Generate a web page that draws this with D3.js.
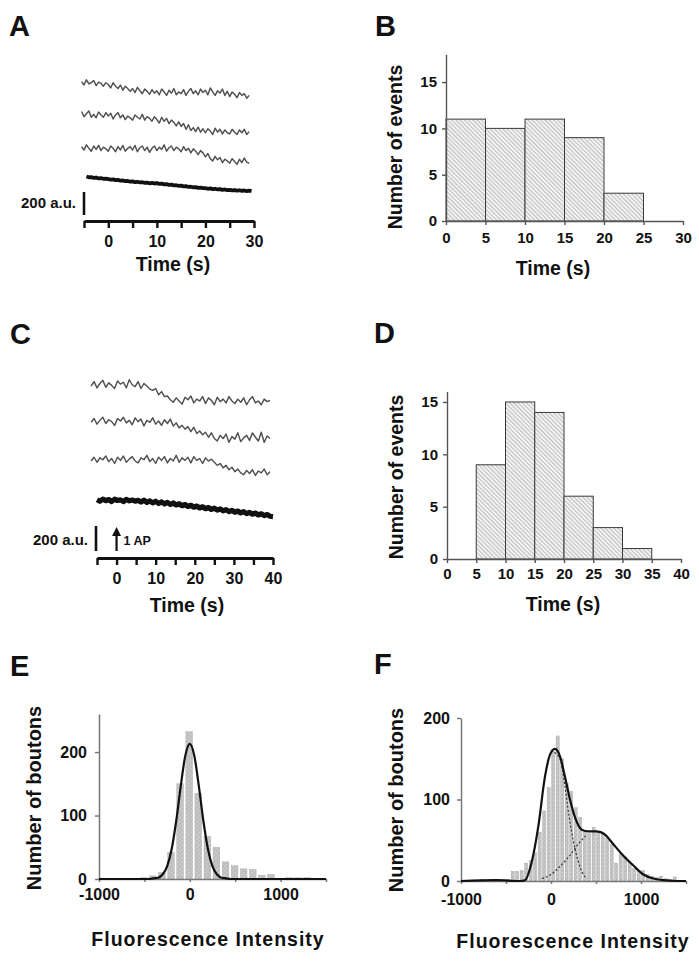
<!DOCTYPE html>
<html><head><meta charset="utf-8">
<script src="https://cdn.jsdelivr.net/npm/d3@7"></script>
<style>
body{margin:0;background:#fff}
svg text{font-family:"Liberation Sans",Arial,sans-serif;font-weight:bold;fill:#111}
</style></head><body>
<svg id="fig" width="699" height="966"></svg>
<script>
// ---------------- DATA ----------------
// Panel A: single-bouton traces (a.u.), sampled every 0.5 s
const timesA = d3.range(-5.5, 29.01, 0.5);
const timesAThick = d3.range(-4.5, 29.51, 0.5);
const traceA1 = [1160,1130,1175,1140,1150,1170,1125,1155,1145,1120,1150,
  1135,1105,1150,1120,1100,1130,1085,1120,1100,1075,
  1100,1065,1110,1080,1055,1095,1075,1050,1090,1060,
  1080,1045,1095,1070,1040,1085,1060,1100,1045,1070,
  1055,1090,1040,1075,1100,1055,1080,1045,1095,1065,
  1085,1045,1105,1070,1040,1080,1060,1095,1040,1075,
  1030,1070,1050,1020,1065,1040,1055,1015,1040];
const traceA2 = [900,855,880,905,850,875,845,895,870,850,890,
  860,885,835,870,890,845,870,830,860,845,
  825,870,850,835,875,825,855,840,815,855,
  830,800,850,815,840,795,825,805,775,810,
  770,795,745,785,735,760,725,765,720,750,
  715,750,730,700,755,720,745,705,740,715,
  705,745,720,700,740,715,745,700,725];
const traceA3 = [595,565,610,580,555,600,570,605,560,590,575,
  555,600,580,550,595,565,605,555,580,595,
  565,605,550,585,600,560,590,545,580,600,
  560,590,570,610,555,585,600,560,590,575,
  550,595,560,580,540,575,555,525,560,540,
  505,535,490,470,510,480,500,455,485,470,
  450,490,465,440,485,455,495,460,450];
const traceA4 = [335,328,330,322,326,318,320,315,316,
  312,308,310,303,305,298,300,294,296,290,
  292,286,289,283,285,279,282,276,279,274,
  277,271,273,266,268,262,264,258,259,253,
  255,249,251,244,246,240,242,236,238,233,
  234,228,231,225,228,222,225,219,222,216,
  219,214,217,212,215,210,213,208,211,207];
const timeTicksA = [-5,0,5,10,15,20,25,30];
const timeLabelsA = [0,10,20,30];

// Panel C: single-bouton traces (a.u.), sampled every 0.75 s
const timesC = d3.range(-6.5, 39.3, 0.75);
const timesCThick = d3.range(-5, 40.01, 0.75);
const traceC1 = [1320,1355,1305,1340,1365,1310,1345,1325,1300,1360,1335,1350,1305,1370,1330,1315,1355,1300,1340,1320,1295,
  1285,1300,1250,1275,1235,1240,1210,
  1190,1225,1200,1175,1230,1210,1240,1185,1215,1200,1235,1180,1225,1205,1170,1230,1195,1215,1185,1235,1200,1180,1215,1190,1225,1170,1210,1235,1185,1200,1170,1215,1195,1205];
const traceC2 = [1030,1060,1015,1045,1070,1020,1050,1035,1005,1060,1040,1070,1025,1045,1010,1065,1035,1055,1000,1045,1030,1065,1015,1040,1005,1050,1020,1055,1000,
  1025,985,1005,975,995,955,990,940,960,930,950,910,945,900,
  880,925,900,935,870,915,895,945,875,905,925,885,945,910,880,950,870,920,900];
const traceC3 = [720,750,710,745,730,760,715,740,700,750,725,760,710,735,755,720,705,745,730,765,715,740,700,750,725,755,705,740,720,765,710,745,725,750,705,755,725,740,700,745,720,735,
  710,685,700,665,685,650,670,635,655,625,
  610,645,620,650,605,640,625,655,610,635];
const traceC4 = [410,398,415,402,412,396,414,404,409,395,413,401,408,399,
  405,392,407,388,401,385,398,380,393,376,389,372,384,368,
  378,362,372,356,366,350,360,344,354,338,348,332,343,327,
  337,321,331,315,326,310,320,304,315,299,309,294,304,288,298,283,292,278,275];
const timeTicksC = [-5,0,5,10,15,20,25,30,35,40];
const timeLabelsC = [0,10,20,30,40];

// Panel B: histogram of event times
const binStartB = [0,5,10,15,20];
const countsB = [11,10,11,9,3];
const xTicksB = [0,5,10,15,20,25,30];
const yTicksB = [0,5,10,15];

// Panel D
const binStartD = [5,10,15,20,25,30];
const countsD = [9,15,14,6,3,1];
const xTicksD = [0,5,10,15,20,25,30,35,40];
const yTicksD = [0,5,10,15];

// Panel E: bouton fluorescence histogram (bin centres, 100 a.u. bins)
const binCenterE = [-500,-400,-300,-200,-100,0,100,200,300,400,500,600,700,800,900,1000,1100,1200,1300];
const countsE = [2,5,10,42,150,232,135,67,50,27,21,16,15,6,7,1,2,2,2];
const fitXE = [-1000,-450,-400,-350,-300,-250,-200,-150,-100,-50,0,50,100,150,200,250,300,350,400,450,1500];
const fitYE = [0,0,1,2,7,20,47,91,146,194,213,194,146,91,47,20,7,2,1,0,0];
const yTicksE = [0,100,200];
const xTicksE = [-1000,-500,0,500,1000,1500];
const xLabelsE = [-1000,0,1000];

// Panel F (bin left edges, 50 a.u. bins)
const binStartF = [-950,-900,-800,-750,-700,-650,-550,-500,-450,-400,-350,-300,-250,-200,-150,-100,-50,0,50,100,150,200,250,300,350,400,450,500,550,600,650,700,750,800,850,900,950,1000,1050,1100,1150,1200,1250,1300,1350];
const countsF = [1,1,2,1,2,1,1,2,12,12,13,22,25,35,60,86,115,159,178,150,120,110,90,78,60,58,66,60,60,52,45,22,34,30,23,15,13,13,8,6,4,6,3,2,5];
const fitXF = [-1000,-600,-350,-290,-215,-141,-67,-11,44,100,155,211,267,341,415,507,600,693,804,915,1026,1137,1248,1396,1500];
const fitYF = [0,1,0,1,23,67,128,155,162,153,128,100,78,63,61,61,57,45,31,19,8,3,1,0,0];
const comp1XF = [0,100,150,200,250,300,350,400];
const comp1YF = [160,150,120,80,48,25,10,3];
const comp2XF = [-100,0,100,200,300,400];
const comp2YF = [3,8,18,30,45,57];
const yTicksF = [0,100,200];
const xTicksF = [-1000,-500,0,500,1000,1500];
const xLabelsF = [-1000,0,1000];

// ---------------- DRAW ----------------
const svg = d3.select("#fig");
const defs = svg.append("defs");
const hatch = defs.append("pattern").attr("id","hatch").attr("patternUnits","userSpaceOnUse")
  .attr("width",3).attr("height",3).attr("patternTransform","rotate(-45)");
hatch.append("rect").attr("width",3).attr("height",3).attr("fill","#f2f2f2");
hatch.append("line").attr("x1",0).attr("y1",0).attr("x2",0).attr("y2",3).attr("stroke","#8a8a8a").attr("stroke-width",1);
const dots = defs.append("pattern").attr("id","dots").attr("patternUnits","userSpaceOnUse")
  .attr("width",3).attr("height",3).attr("patternTransform","rotate(45)");
dots.append("rect").attr("width",3).attr("height",3).attr("fill","#bdbdbd");
dots.append("line").attr("x1",0).attr("y1",0).attr("x2",0).attr("y2",1.6).attr("stroke","#f4f4f4").attr("stroke-width",1.2);

function letter(t,x,y){ svg.append("text").attr("x",x).attr("y",y).attr("font-size",29).text(t); }
function label(t,x,y,size,anchor){ return svg.append("text").attr("x",x).attr("y",y).attr("font-size",size).attr("text-anchor",anchor||"middle").text(t); }
function ylabel(t,x,y,size){ svg.append("text").attr("transform",`translate(${x},${y}) rotate(-90)`).attr("font-size",size).attr("text-anchor","middle").text(t); }

function styleAxis(g,color,width,fs){
  g.selectAll("path,line").attr("stroke",color).attr("stroke-width",width);
  g.selectAll("text").attr("font-size",fs).attr("fill","#111").attr("font-family","Liberation Sans, Arial, sans-serif").attr("font-weight","bold");
}

// --- Trace panels
function tracePanel(o){
  const x = d3.scaleLinear().domain(o.xDomain).range(o.xRange);
  const y = d3.scaleLinear().domain([0,200]).range(o.barRange);
  const line = (ts)=>d3.line().x((d,i)=>x(ts[i])).y(d=>y(d));
  o.traces.forEach(v=>{
    svg.append("path").datum(v).attr("d",line(o.times)).attr("fill","none")
      .attr("stroke","#505050").attr("stroke-width",1.45).attr("stroke-linejoin","round");
  });
  svg.append("path").datum(o.thick).attr("d",line(o.thickTimes)).attr("fill","none")
    .attr("stroke","#111").attr("stroke-width",o.thickW).attr("stroke-linejoin","round");
  // scale bar
  svg.append("line").attr("x1",o.barX).attr("x2",o.barX).attr("y1",y(0)).attr("y2",y(200))
    .attr("stroke","#111").attr("stroke-width",2.6);
  label("200 a.u.",o.barX-8,o.barTextY,15,"end");
  // axis
  const ax = d3.axisBottom(x).tickValues(o.ticks).tickSize(7).tickSizeOuter(0).tickPadding(8)
    .tickFormat(d=>o.labels.includes(d)?d:"");
  const g = svg.append("g").attr("transform",`translate(0,${o.axisY})`).call(ax);
  styleAxis(g,"#111",2.4,16);
  g.select(".domain").attr("stroke-width",2.8);
  label("Time (s)",o.titleX,o.titleY,19.5);
  return {x,y};
}

tracePanel({xDomain:[-5,30], xRange:[84,254], barRange:[215,192], times:timesA, traces:[traceA1,traceA2,traceA3],
  thick:traceA4, thickTimes:timesAThick, thickW:3.8, barX:84, barTextY:208, ticks:timeTicksA, labels:timeLabelsA,
  axisY:221, titleX:173, titleY:271});
const pc = tracePanel({xDomain:[-5,40], xRange:[97,273], barRange:[551,526], times:timesC, traces:[traceC1,traceC2,traceC3],
  thick:traceC4, thickTimes:timesCThick, thickW:5.2, barX:96, barTextY:545, ticks:timeTicksC, labels:timeLabelsC,
  axisY:558, titleX:187, titleY:612});
// 1 AP arrow
{
  const ax = pc.x(0);
  svg.append("line").attr("x1",ax).attr("x2",ax).attr("y1",551).attr("y2",534).attr("stroke","#111").attr("stroke-width",2.2);
  svg.append("path").attr("d",`M${ax-4.5},536 L${ax},527 L${ax+4.5},536 Z`).attr("fill","#111");
  label("1 AP",ax+7,545,12.5,"start");
}

// --- Histogram panels (B, D)
function histPanel(o){
  const x = d3.scaleLinear().domain(o.xDomain).range(o.xRange);
  const y = d3.scaleLinear().domain(o.yDomain).range(o.yRange);
  svg.append("g").selectAll("rect").data(o.counts).join("rect")
    .attr("x",(d,i)=>x(o.starts[i])).attr("width",(d,i)=>x(o.starts[i]+o.w)-x(o.starts[i]))
    .attr("y",d=>y(d)).attr("height",d=>y(0)-y(d))
    .attr("fill","url(#hatch)").attr("stroke","#3a3a3a").attr("stroke-width",1);
  const gx = svg.append("g").attr("transform",`translate(0,${y(0)})`)
    .call(d3.axisBottom(x).tickValues(o.xTicks).tickSize(4).tickSizeOuter(0).tickPadding(o.xPad));
  styleAxis(gx,"#555",1.4,15);
  const gy = svg.append("g").attr("transform",`translate(${x(o.xDomain[0])},0)`)
    .call(d3.axisLeft(y).tickValues(o.yTicks).tickSize(4).tickSizeOuter(0).tickPadding(5));
  styleAxis(gy,"#555",1.4,15);
  label("Time (s)",o.titleX,o.titleY,19.5);
  ylabel("Number of events",o.ylx,o.yly,19.5);
}
histPanel({xDomain:[0,30], xRange:[446,683], yDomain:[0,18], yRange:[221,54.3], starts:binStartB, counts:countsB, w:5,
  xTicks:xTicksB, yTicks:yTicksB, xPad:7, titleX:553, titleY:275, ylx:402, yly:147});
histPanel({xDomain:[0,40], xRange:[447,681], yDomain:[0,16], yRange:[559,391.5], starts:binStartD, counts:countsD, w:5,
  xTicks:xTicksD, yTicks:yTicksD, xPad:5, titleX:563, titleY:611, ylx:403, yly:477});

// --- Fluorescence histograms (E, F)
function fluoPanel(o){
  const x = d3.scaleLinear().domain([-1000,1500]).range(o.xRange);
  const y = d3.scaleLinear().domain(o.yDomain).range(o.yRange);
  svg.append("g").selectAll("rect").data(o.counts).join("rect")
    .attr("x",(d,i)=>x(o.left[i])+0.6).attr("width",(d,i)=>x(o.left[i]+o.w)-x(o.left[i])-o.gap)
    .attr("y",d=>y(d)).attr("height",d=>y(0)-y(d))
    .attr("fill","url(#dots)").attr("stroke","#a8a8a8").attr("stroke-width",0.4);
  const gx = svg.append("g").attr("transform",`translate(0,${y(0)})`)
    .call(d3.axisBottom(x).tickValues(o.xTicks).tickSize(3).tickSizeOuter(0).tickPadding(o.xPad)
      .tickFormat(d=>o.xLabels.includes(d)?d:""));
  styleAxis(gx,"#777",1.5,16);
  const gy = svg.append("g").attr("transform",`translate(${o.xRange[0]},0)`)
    .call(d3.axisLeft(y).tickValues(o.yTicks).tickSize(4).tickSizeOuter(0).tickPadding(o.yPad));
  styleAxis(gy,"#777",1.5,16);
  const ln = d3.line().x((d,i)=>x(o.fitX[i])).y(d=>y(d)).curve(d3.curveMonotoneX);
  (o.comps||[]).forEach(c=>{
    svg.append("path").datum(c[1]).attr("d",d3.line().x((d,i)=>x(c[0][i])).y(d=>y(d)).curve(d3.curveMonotoneX))
      .attr("fill","none").attr("stroke","#333").attr("stroke-width",1.2).attr("stroke-dasharray","2,2");
  });
  svg.append("path").datum(o.fitY).attr("d",ln).attr("fill","none").attr("stroke","#111").attr("stroke-width",2.2);
  label("Fluorescence Intensity",o.titleX,o.titleY,19.5).attr("letter-spacing",1);
  ylabel("Number of boutons",o.ylx,o.yly,20);
}
fluoPanel({xRange:[99,326], yDomain:[0,260], yRange:[879,714], counts:countsE,
  left:binCenterE.map(c=>c-50), w:100, gap:2.4, xTicks:xTicksE, xLabels:xLabelsE, yTicks:yTicksE,
  xPad:7, yPad:8, fitX:fitXE, fitY:fitYE, titleX:208, titleY:946, ylx:41, yly:798});
fluoPanel({xRange:[461,686], yDomain:[0,200], yRange:[881,718], counts:countsF,
  left:binStartF, w:50, gap:1.4, xTicks:xTicksF, xLabels:xLabelsF, yTicks:yTicksF,
  xPad:10, yPad:7, fitX:fitXF, fitY:fitYF, comps:[[comp1XF,comp1YF],[comp2XF,comp2YF]],
  titleX:573, titleY:948, ylx:403, yly:800});

// panel letters
letter("A",9,36); letter("B",375,36); letter("C",10,344); letter("D",374,343); letter("E",10,676); letter("F",374,674);
</script>
</body></html>
